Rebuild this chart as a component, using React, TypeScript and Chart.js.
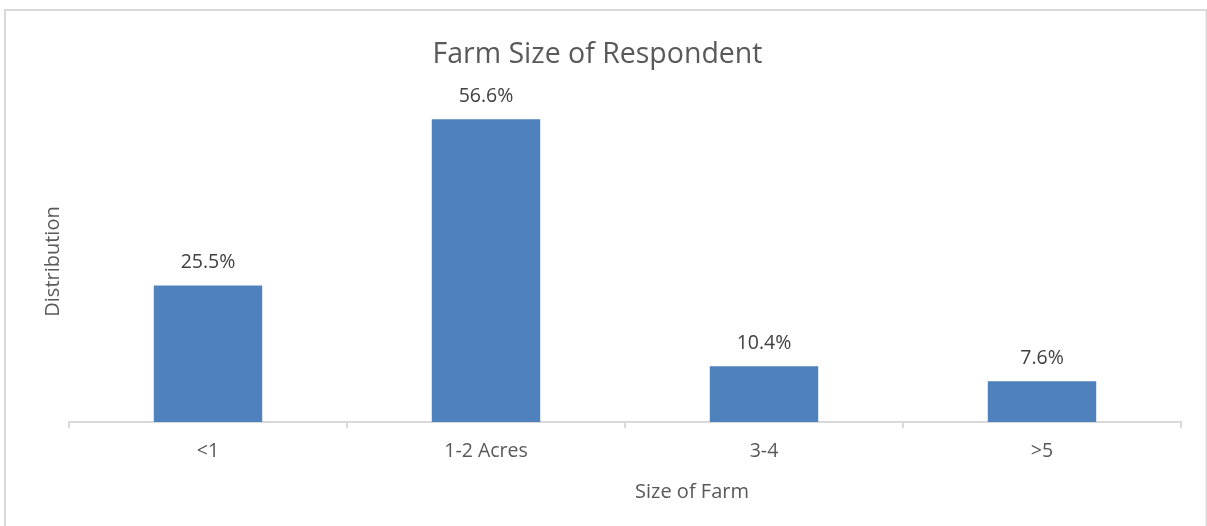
import React, { useEffect, useRef } from "react";
import { Chart, registerables } from "chart.js";

Chart.register(...registerables);

const categories = ["<1", "1-2 Acres", "3-4", ">5"];
const distribution = [25.5, 56.6, 10.4, 7.6];
const chartTitle = "Farm Size of Respondent";
const xAxisTitle = "Size of Farm";
const yAxisTitle = "Distribution";

const FONT = "'Open Sans', 'Noto Sans', sans-serif";

export default function App() {
  const ref = useRef<HTMLCanvasElement | null>(null);

  useEffect(() => {
    if (!ref.current) return;

    const borderPlugin = {
      id: "frame",
      beforeDraw(chart: any) {
        const ctx = chart.ctx;
        ctx.save();
        ctx.fillStyle = "#ffffff";
        ctx.fillRect(0, 0, chart.width, chart.height);
        ctx.strokeStyle = "#d9d9d9";
        ctx.lineWidth = 2;
        ctx.strokeRect(5, 10, 1201.5, 600);
        ctx.restore();
      },
    };

    const labelPlugin = {
      id: "valueLabels",
      afterDatasetsDraw(chart: any) {
        const ctx = chart.ctx;
        const meta = chart.getDatasetMeta(0);
        ctx.save();
        ctx.font = `19.5px ${FONT}`;
        ctx.fillStyle = "#404040";
        ctx.textAlign = "center";
        ctx.textBaseline = "middle";
        meta.data.forEach((bar: any, i: number) => {
          const v = chart.data.datasets[0].data[i] as number;
          ctx.fillText(v.toFixed(1) + "%", bar.x, bar.y - 23);
        });
        ctx.restore();
      },
    };

    const titlesPlugin = {
      id: "titles",
      afterDraw(chart: any) {
        const ctx = chart.ctx;
        ctx.save();
        ctx.fillStyle = "#595959";
        ctx.textAlign = "center";
        ctx.textBaseline = "alphabetic";
        ctx.font = `28.5px ${FONT}`;
        ctx.fillText(chartTitle, 597.5, 63);
        ctx.font = `20px ${FONT}`;
        ctx.fillText(xAxisTitle, 692, 498);
        ctx.restore();
      },
    };

    const chart = new Chart(ref.current, {
      type: "bar",
      data: {
        labels: categories,
        datasets: [
          {
            data: distribution,
            backgroundColor: "#4f81bd",
            borderWidth: 0,
            categoryPercentage: 1,
            barPercentage: 0.39,
          },
        ],
      },
      options: {
        responsive: false,
        animation: false,
        devicePixelRatio: 1,
        layout: { padding: { left: 0, right: 26, top: 101, bottom: 0 } },
        plugins: {
          legend: { display: false },
          tooltip: { enabled: false },
          title: { display: false },
        },
        scales: {
          x: {
            grid: {
              display: true,
              drawOnChartArea: false,
              drawTicks: true,
              tickLength: 6,
              color: "#d9d9d9",
              lineWidth: 2,
              offset: true,
            },
            border: { display: true, color: "#d9d9d9", width: 2 },
            ticks: {
              color: "#595959",
              font: { family: FONT, size: 19.5 },
              padding: 12,
            },
            title: { display: false },
            afterFit(scale: any) {
              scale.height = 104;
            },
          },
          y: {
            min: 0,
            max: 60,
            grid: { display: false, drawTicks: false },
            border: { display: false },
            ticks: { display: false },
            title: {
              display: true,
              text: yAxisTitle,
              color: "#595959",
              font: { family: FONT, size: 20 },
              padding: { top: 41, bottom: 0 },
            },
            afterFit(scale: any) {
              scale.width = 69;
            },
          },
        },
      },
      plugins: [borderPlugin, labelPlugin, titlesPlugin],
    });

    return () => chart.destroy();
  }, []);

  return (
    <div style={{ position: "fixed", left: 0, top: 0, width: 1207, height: 526 }}>
      <canvas ref={ref} width={1207} height={526} style={{ display: "block" }} />
    </div>
  );
}
